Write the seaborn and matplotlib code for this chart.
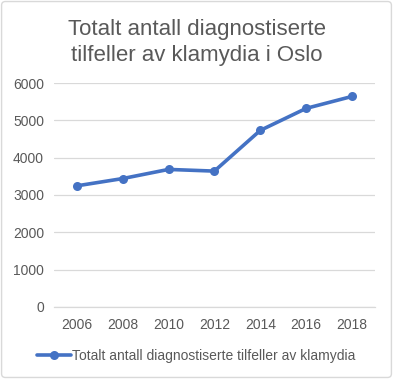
import matplotlib
matplotlib.use("Agg")
import matplotlib.pyplot as plt
import matplotlib.patches as mpatches
import seaborn as sns
import pandas as pd

# ── DATA ──────────────────────────────────────────────────────────────────────
YEARS = ["2006", "2008", "2010", "2012", "2014", "2016", "2018"]
CASES = [3245, 3440, 3685, 3640, 4730, 5320, 5640]
SERIES = "Totalt antall diagnostiserte tilfeller av klamydia"
TITLE = "Totalt antall diagnostiserte\ntilfeller av klamydia i Oslo"

BLUE = "#4472C4"; GRAY = "#595959"; GRID = "#D9D9D9"

sns.set_style("white")
plt.rcParams["font.family"] = ["Liberation Sans", "DejaVu Sans"]

df = pd.DataFrame({"year": YEARS, "cases": CASES})

fig = plt.figure(figsize=(3.93, 3.79), dpi=100)
ax = fig.add_axes([0.137, 0.19, 0.817, 0.591])

sns.lineplot(data=df, x="year", y="cases", ax=ax, color=BLUE, lw=2.6,
             marker="o", markersize=6.5, markeredgewidth=0, label=SERIES,
             legend=False)

ax.set_xlim(-0.5, len(YEARS) - 0.5)
ax.set_ylim(0, 6000)
ax.set_yticks(range(0, 6001, 1000))
ax.yaxis.grid(True, color=GRID, lw=0.9)
ax.set_axisbelow(True)
for s in ax.spines.values():
    s.set_visible(False)
ax.spines["bottom"].set_visible(True)
ax.spines["bottom"].set_color(GRID)
ax.spines["bottom"].set_linewidth(0.9)
ax.tick_params(axis="both", length=0, labelsize=10, labelcolor=GRAY)
ax.tick_params(axis="x", pad=8)
ax.tick_params(axis="y", pad=7)
ax.set_xlabel(""); ax.set_ylabel("")

fig.text(0.5, 0.888, TITLE, ha="center", va="center", fontsize=16,
         color=GRAY, linespacing=1.32)

handles, labels = ax.get_legend_handles_labels()
fig.legend(handles, labels, loc="center", bbox_to_anchor=(0.5, 0.061),
           frameon=False, fontsize=10, labelcolor=GRAY, handlelength=2.4,
           handletextpad=0.1)

fig.add_artist(mpatches.FancyBboxPatch((0.004, 0.004), 0.992, 0.992,
               boxstyle="round,pad=0,rounding_size=0.01",
               transform=fig.transFigure, fill=False, ec="#D9D9D9", lw=1))

fig.savefig("out.png", dpi=100)
